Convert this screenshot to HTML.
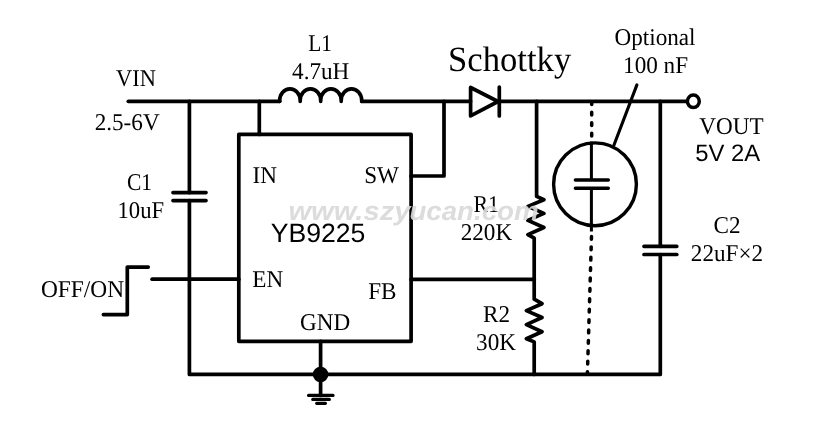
<!DOCTYPE html>
<html><head><meta charset="utf-8">
<style>
html,body{margin:0;padding:0;background:#fff;}
body{width:821px;height:430px;overflow:hidden;}
svg{display:block;}
text{font-family:"Liberation Serif",serif;fill:#000;text-rendering:geometricPrecision;}
.s{font-family:"Liberation Sans",sans-serif;}
.w{stroke:#000;stroke-width:3.7;fill:none;}
.r{stroke:#000;stroke-width:3.7;fill:none;stroke-linecap:round;stroke-linejoin:round;}
.t{stroke:#000;stroke-width:3.2;fill:none;stroke-linecap:round;}
</style></head><body>
<svg width="821" height="430" viewBox="0 0 821 430">
<rect width="821" height="430" fill="#fff"/>
<!-- main loop: top rail, C1 branch, bottom rail, C2 branch -->
<path class="r" d="M128.3 101.3H279.7"/>
<path class="r" d="M279.7 101.3 v-1 a10.25 11.5 0 0 1 20.5 0 v1 v-1 a10.25 11.5 0 0 1 20.5 0 v1 v-1 a10.25 11.5 0 0 1 20.5 0 v1 v-1 a10.25 11.5 0 0 1 20.5 0 v1"/>
<path class="r" d="M361.7 101.3H470.6 M499.3 101.3H687.3"/>
<path class="r" d="M189.4 101.3V192.6 M189.4 200.6V374.4H660.3V254.5 M660.3 246.3V101.3"/>
<!-- C1 plates -->
<path class="r" d="M173 192.6H206 M173 200.6H206"/>
<!-- IC -->
<path class="r" d="M238.8 134.4H411.1V341.3H238.8Z"/>
<path class="r" d="M259.3 101.3V134.4"/>
<path class="r" d="M411.1 176.0H444.0V101.3"/>
<!-- diode -->
<path class="r" d="M470.6 87.5V115.9L498 101.5Z"/>
<path class="r" d="M499.3 87.1V116.0"/>
<!-- R1 / R2 -->
<path class="r" d="M536.6 101.3V196.4 L543.9 199.7 L527.9 206.4 L543.9 213.4 L527.9 220.4 L543.9 227.5 L527.9 234.6 L534.2 238.2 V299.2 L542 303.7 L526.4 310.6 L542 317.5 L526.4 324.6 L542 331.8 L526.4 338.7 L534.2 341.9 V374.4"/>
<path class="r" d="M411.1 279.4H534.2"/>
<!-- dashed -->
<path d="M591.7 101.8V140" stroke="#000" stroke-width="3.5" fill="none" stroke-linecap="round" stroke-dasharray="2.8 7.7"/>
<path d="M591.5 236.5L587.4 373.8" stroke="#000" stroke-width="3.5" fill="none" stroke-linecap="round" stroke-dasharray="2.8 7.6"/>
<circle cx="595" cy="184.3" r="41.4" fill="#fff" stroke="#000" stroke-width="3.4"/>
<path d="M591.4 141.5V180 M591.4 188.2V231.5" stroke="#000" stroke-width="3" fill="none"/>
<path d="M575.4 180.1H608.3 M575.4 188.2H608.3" stroke="#000" stroke-width="3.5" fill="none" stroke-linecap="round"/>
<path d="M636.9 84.9L613.8 145.5" stroke="#000" stroke-width="3.1" fill="none" stroke-linecap="round"/>
<!-- C2 plates -->
<path class="r" d="M644 246.3H676.8 M644 254.5H676.8"/>
<!-- out -->
<ellipse cx="693.35" cy="101.3" rx="5.95" ry="6.3" fill="#fff" stroke="#000" stroke-width="3.5"/>
<!-- EN -->
<path class="r" d="M152.1 279.2H238.8"/>
<path class="r" stroke-linejoin="miter" d="M103.4 314.6H127.3V267.1H148.2"/>
<!-- GND -->
<path class="r" d="M320.6 341.3V395.4"/>
<circle cx="320.6" cy="374.5" r="7.8" fill="#000"/>
<path d="M308.6 395.4H333 M312.8 399.4H329.3 M316.7 403.3H325.4" stroke="#000" stroke-width="3.3" fill="none" stroke-linecap="round"/>

<g opacity="0.999">
<text font-size="24.0" transform="translate(116.07,85.8) scale(0.9350,1)">VIN</text>
<text font-size="24.0" transform="translate(94.67,130.3) scale(0.9650,1)">2.5-6V</text>
<text font-size="24.0" transform="translate(308.28,51.0) scale(0.8930,1)">L1</text>
<text font-size="24.0" transform="translate(292.06,78.9) scale(0.9650,1)">4.7uH</text>
<text font-size="35.5" transform="translate(448.04,70.7) scale(0.9757,1)">Schottky</text>
<text font-size="24.0" transform="translate(614.51,44.9) scale(0.9650,1)">Optional</text>
<text font-size="24.0" transform="translate(623.09,73.4) scale(0.9650,1)">100 nF</text>
<text font-size="24.0" transform="translate(699.31,134.0) scale(0.9650,1)">VOUT</text>
<text class="s" font-size="23.8" transform="translate(695.26,161.1) scale(1.0015,1)">5V 2A</text>
<text font-size="24.0" transform="translate(126.97,189.8) scale(0.8960,1)">C1</text>
<text font-size="24.0" transform="translate(117.51,218.4) scale(0.9440,1)">10uF</text>
<text font-size="24.0" transform="translate(252.54,182.7) scale(0.9650,1)">IN</text>
<text font-size="24.0" transform="translate(364.20,183.4) scale(0.9650,1)">SW</text>
<text class="s" font-size="26.5" transform="translate(270.68,242.2) scale(1.0042,1)">YB9225</text>
<text font-size="24.0" transform="translate(252.30,287.3) scale(0.9650,1)">EN</text>
<text font-size="24.0" transform="translate(368.19,299.0) scale(0.9650,1)">FB</text>
<text font-size="24.0" transform="translate(300.10,329.9) scale(0.9650,1)">GND</text>
<text font-size="24.0" transform="translate(40.94,296.5) scale(0.9750,1)">OFF/ON</text>
<text font-size="24.0" transform="translate(473.43,212.1) scale(0.9110,1)">R1</text>
<text font-size="24.0" transform="translate(460.69,240.0) scale(0.9650,1)">220K</text>
<text font-size="24.0" transform="translate(483.00,322.0) scale(0.9650,1)">R2</text>
<text font-size="24.0" transform="translate(476.10,349.8) scale(0.9650,1)">30K</text>
<text font-size="24.0" transform="translate(713.52,233.1) scale(0.9650,1)">C2</text>
<text font-size="24.0" transform="translate(690.85,261.1) scale(0.9650,1)">22uF×2</text>
<text class="s" font-size="26.5" font-weight="bold" font-style="italic" style="fill:#dadada" opacity="0.92" transform="translate(288.43,219.8) scale(1.0998,1)">www.szy</text>
<text class="s" font-size="26.5" font-weight="bold" font-style="italic" style="fill:#dadada" opacity="0.92" transform="translate(409.44,219.8) scale(1.0435,1)">ucan.com</text>

</g>
</svg>
</body></html>
